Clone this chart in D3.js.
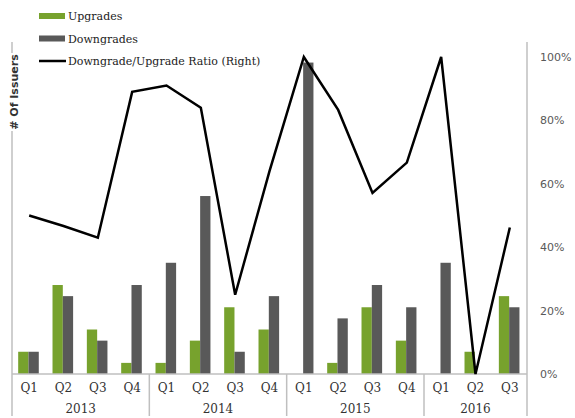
<!DOCTYPE html>
<html><head><meta charset="utf-8">
<script src="https://cdn.jsdelivr.net/npm/d3@7"></script>
<style>body{margin:0;background:#fff}svg{display:block}</style>
</head><body>
<script>
const quarters = ["Q1","Q2","Q3","Q4","Q1","Q2","Q3","Q4","Q1","Q2","Q3","Q4","Q1","Q2","Q3"];
const years = ["2013","2014","2015","2016"];
const yearSpan = [4,4,4,3];
const upgrades   = [2,8,4,1, 1,3,6,4, 0,1,6,3, 0,2,7];
const downgrades = [2,7,3,8, 10,16,2,7, 28,5,8,6, 10,0,6];
const ratio      = [0.50,0.467,0.43,0.89, 0.91,0.84,0.25,0.64, 1.00,0.833,0.571,0.667, 1.00,0.00,0.462];
const rightTicks = [0,0.2,0.4,0.6,0.8,1.0];

const W=575,H=418;
const L=12,R=527,B=374,T=42;
const svg=d3.select("body").append("svg").attr("width",W).attr("height",H);
const idx=d3.range(quarters.length);
const x=d3.scaleBand().domain(idx).range([L,R]);
const sub=d3.scaleBand().domain(["u","d"]).range([x.bandwidth()*0.18,x.bandwidth()*0.78]);
const y=d3.scaleLinear().domain([0,28.5]).range([B,57]);
const yr=d3.scaleLinear().domain([0,1]).range([B,57]);
const axisCol="#bfbfbf";

// axis lines
svg.append("line").attr("x1",L).attr("x2",L).attr("y1",T).attr("y2",B).attr("stroke",axisCol).attr("stroke-width",1.5);
svg.append("line").attr("x1",R).attr("x2",R).attr("y1",T).attr("y2",B).attr("stroke",axisCol).attr("stroke-width",1.5);

// bars
const g=svg.append("g");
g.selectAll("rect.u").data(idx).join("rect").attr("class","u")
 .attr("x",i=>x(i)+sub("u")).attr("width",sub.bandwidth())
 .attr("y",i=>y(upgrades[i])).attr("height",i=>B-y(upgrades[i])).attr("fill","#77A22D");
g.selectAll("rect.d").data(idx).join("rect").attr("class","d")
 .attr("x",i=>x(i)+sub("d")).attr("width",sub.bandwidth())
 .attr("y",i=>y(downgrades[i])).attr("height",i=>B-y(downgrades[i])).attr("fill","#595959");

// bottom axis
svg.append("line").attr("x1",L).attr("x2",R).attr("y1",B).attr("y2",B).attr("stroke",axisCol).attr("stroke-width",1.5);
let acc=0; const bounds=[0];
yearSpan.forEach(s=>{acc+=s;bounds.push(acc);});
bounds.forEach(b=>{
  const xx = b<quarters.length ? x(b) : R;
  svg.append("line").attr("x1",xx).attr("x2",xx).attr("y1",B).attr("y2",416).attr("stroke",axisCol).attr("stroke-width",1.5);
});
svg.selectAll("text.q").data(idx).join("text").attr("class","q")
 .attr("x",i=>x(i)+x.bandwidth()/2).attr("y",392).attr("text-anchor","middle")
 .attr("font-family","DejaVu Serif").attr("font-size",12).attr("fill","#333").text(i=>quarters[i]);
years.forEach((yy,k)=>{
  const x0 = x(bounds[k]); const x1 = bounds[k+1]<quarters.length ? x(bounds[k+1]) : R;
  svg.append("text").attr("x",(x0+x1)/2).attr("y",413).attr("text-anchor","middle")
   .attr("font-family","DejaVu Serif").attr("font-size",12).attr("fill","#333").text(yy);
});

// right axis labels
svg.selectAll("text.r").data(rightTicks).join("text").attr("class","r")
 .attr("x",540).attr("y",d=>yr(d)+4).attr("font-family","DejaVu Sans").attr("font-size",11)
 .attr("fill","#595959").text(d=>Math.round(d*100)+"%");

// ratio line
const line=d3.line().x(i=>x(i)+x.bandwidth()/2).y(i=>yr(ratio[i]));
svg.append("path").datum(idx).attr("d",line).attr("fill","none").attr("stroke","#000").attr("stroke-width",2.5).attr("stroke-linejoin","miter");

// y title
svg.append("rect").attr("x",5).attr("y",53).attr("width",16).attr("height",78).attr("fill","#fff");
svg.append("text").attr("transform","translate(18,92) rotate(-90)").attr("text-anchor","middle")
 .attr("font-family","DejaVu Sans").attr("font-weight","bold").attr("font-size",11).attr("fill","#333").text("# Of Issuers");

// legend
const leg=[{t:"Upgrades",c:"#77A22D",k:"b"},{t:"Downgrades",c:"#595959",k:"b"},{t:"Downgrade/Upgrade Ratio (Right)",c:"#000",k:"l"}];
leg.forEach((d,i)=>{
  const yy=16+i*22.5;
  if(d.k==="b") svg.append("rect").attr("x",39).attr("y",yy-3).attr("width",26).attr("height",6).attr("fill",d.c);
  else svg.append("line").attr("x1",39).attr("x2",66).attr("y1",yy).attr("y2",yy).attr("stroke",d.c).attr("stroke-width",2.5);
  svg.append("text").attr("x",68).attr("y",yy+4).attr("font-family","DejaVu Serif").attr("font-size",11).attr("fill","#222").text(d.t);
});
</script>
</body></html>
